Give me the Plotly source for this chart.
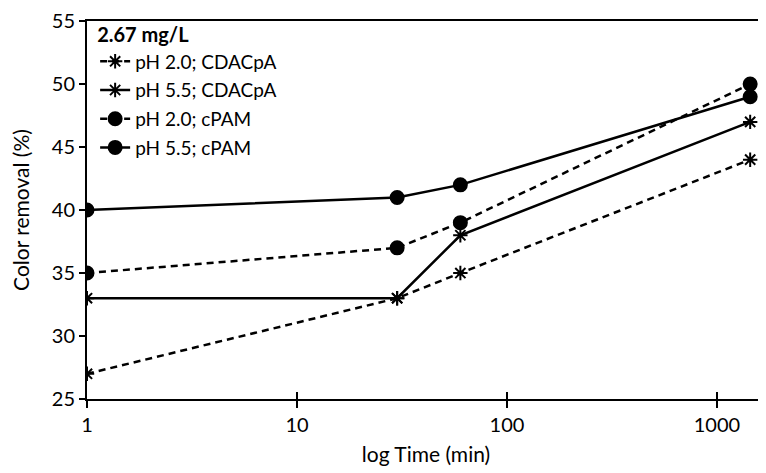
import plotly.graph_objects as go

time_min = [1, 30, 60, 1440]
ph20_cdacpa = [27, 33, 35, 44]
ph55_cdacpa = [33, 33, 38, 47]
ph20_cpam = [35, 37, 39, 50]
ph55_cpam = [40, 41, 42, 49]

x_ticks = [1, 10, 100, 1000]
y_ticks = [25, 30, 35, 40, 45, 50, 55]

series = [
    ("pH 2.0; CDACpA", ph20_cdacpa, "dash", "asterisk-open", 12),
    ("pH 5.5; CDACpA", ph55_cdacpa, "solid", "asterisk-open", 12),
    ("pH 2.0; cPAM", ph20_cpam, "dash", "circle", 13),
    ("pH 5.5; cPAM", ph55_cpam, "solid", "circle", 13),
]

fig = go.Figure()
for i, (name, vals, dash, sym, size) in enumerate(series):
    fig.add_trace(go.Scatter(
        x=time_min, y=vals, name=name, mode="lines+markers",
        legendgroup=f"g{i}",
        line=dict(color="black", width=2.5, dash="7px,5px" if dash == "dash" else "solid"),
        marker=dict(symbol=sym, size=size, color="black",
                    line=dict(color="black", width=2)),
    ))

font = "Lato, Carlito, Calibri, sans-serif"
fig.update_layout(
    width=766, height=473,
    margin=dict(l=79, r=9, t=13, b=82, autoexpand=False),
    paper_bgcolor="white", plot_bgcolor="white",
    font=dict(family=font, size=20, color="black"),
    showlegend=True,
    legend=dict(
        x=0.012, y=1.012, xanchor="left", yanchor="top",
        bgcolor="rgba(0,0,0,0)",
        title=dict(text="<b>2.67 mg/L</b>", font=dict(size=20)),
        font=dict(size=19),
        tracegroupgap=1,
    ),
    xaxis=dict(
        type="log", range=[0, 3.229], automargin=False,
        tickvals=x_ticks, ticktext=[str(v) for v in x_ticks],
        showline=True, linecolor="black", linewidth=2, mirror=True,
        ticks="outside", ticklen=7, tickwidth=2, tickcolor="black",
        showgrid=False, zeroline=False,
        title=dict(text="log Time (min)", font=dict(size=21), standoff=12),
    ),
    xaxis2=dict(
        type="log", range=[0, 3.229], overlaying="x", anchor="y", automargin=False,
        tickvals=x_ticks, showticklabels=False,
        ticks="inside", ticklen=7, tickwidth=2, tickcolor="black",
        showgrid=False, zeroline=False, showline=False,
    ),
    yaxis=dict(
        range=[25, 55.01], tickvals=y_ticks, automargin=False,
        ticklabeloverflow="allow",
        showline=True, linecolor="black", linewidth=2, mirror=True,
        ticks="outside", ticklen=6, tickwidth=2, tickcolor="black",
        showgrid=False, zeroline=False,
        title=dict(text="Color removal (%)", font=dict(size=21), standoff=22),
    ),
)
fig.add_trace(go.Scatter(x=[time_min[0]], y=[ph55_cpam[0]], xaxis="x2", mode="markers",
                         marker=dict(opacity=0), showlegend=False, hoverinfo="skip"))

fig.write_html("out.html")
